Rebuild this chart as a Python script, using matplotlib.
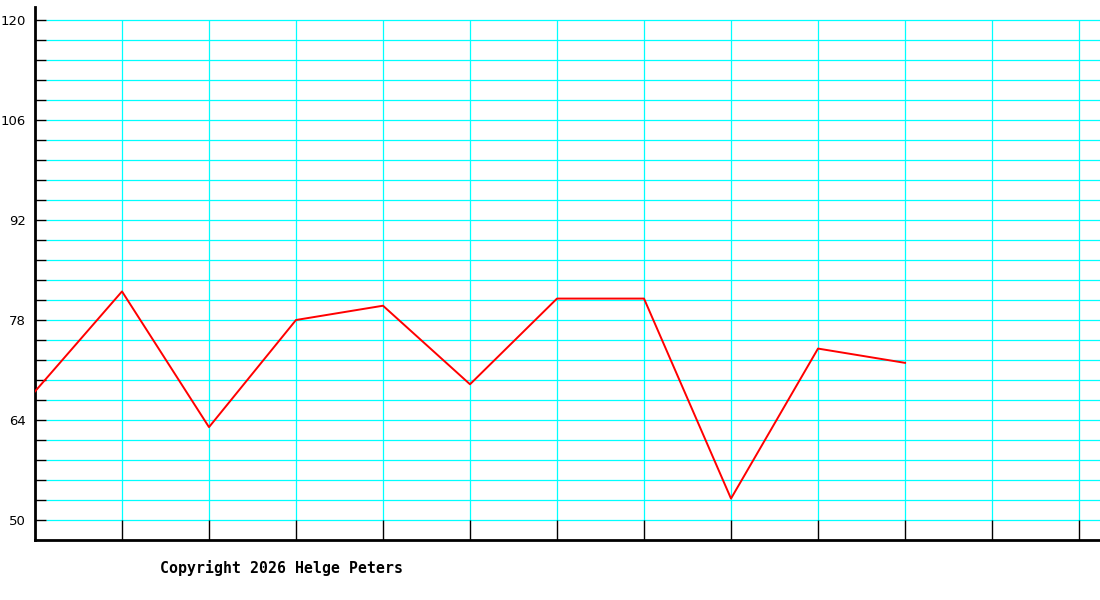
import matplotlib
matplotlib.use("Agg")
import matplotlib.pyplot as plt

# values, one per column
readings = [68, 82, 63, 78, 80, 69, 81, 81, 53, 74, 72]
y_labels = [50, 64, 78, 92, 106, 120]
n_columns = 12

fig = plt.figure(figsize=(11, 6), dpi=100)
ax = fig.add_axes([35 / 1100, 60 / 600, 1065 / 1100, 533 / 600])

step = 2.8  # 20 px per minor row
y_low = 50 - step
y_top = 50 + 513 * 0.14
x_right = 1065 / 87
ax.set_xlim(0, x_right)
ax.set_ylim(y_low, y_top)

# grid: cyan, starting a little right of the y axis
grid_y = [50 + k * step for k in range(26)]
ax.hlines(grid_y, 11 / 87, x_right, colors="#00ffff", lw=0.9,
          snap=True, zorder=1)
ax.vlines(range(1, n_columns + 1), 50, 120, colors="#00ffff", lw=0.9,
          snap=True, zorder=1)

ax.plot(range(len(readings)), readings, color="#ff0000", lw=1.4, zorder=3)

for side in ["top", "right"]:
    ax.spines[side].set_visible(False)
for side in ["left", "bottom"]:
    ax.spines[side].set_linewidth(2)
    ax.spines[side].set_color("black")

ax.set_yticks(y_labels)
ax.set_yticklabels([str(v) for v in y_labels])
ax.set_yticks(grid_y, minor=True)
ax.tick_params(axis="y", which="both", direction="in", length=8, width=1,
               color="black", pad=6.5, labelsize=9.5)
ax.set_xticks(range(1, n_columns + 1))
ax.set_xticklabels([])
ax.tick_params(axis="x", direction="in", length=14.4, width=1, color="black")

fig.text(160 / 1100, 1 - 568 / 600, "Copyright 2026 Helge Peters",
         family="DejaVu Sans Mono", weight="bold", fontsize=10.7, va="center")

fig.savefig("out.png", dpi=100)
